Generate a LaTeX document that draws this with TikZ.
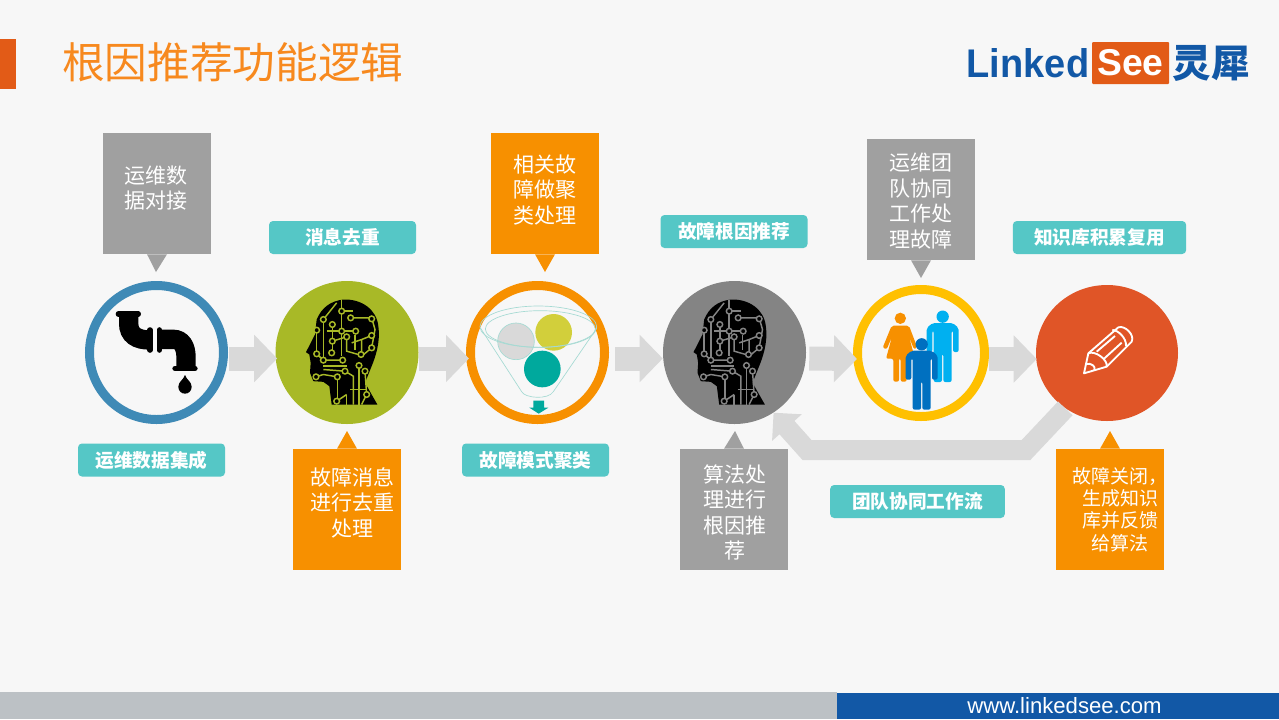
\documentclass[tikz,border=0pt]{standalone}
\usepackage{fontspec}
\setmainfont{Noto Sans CJK SC}
\newfontfamily\logofont{Liberation Sans}
\usetikzlibrary{shapes.geometric, positioning, arrows.meta}

\definecolor{bgcol}{HTML}{F7F7F7}
\definecolor{orangecol}{HTML}{F79000}
\definecolor{titlecol}{HTML}{F7891E}
\definecolor{greycol}{HTML}{A0A0A0}
\definecolor{tealcol}{HTML}{55C7C6}
\definecolor{flowcol}{HTML}{D9D9D9}
\definecolor{bluecol}{HTML}{1258A6}
\definecolor{logocol}{HTML}{E25B17}
\definecolor{olivecol}{HTML}{A8B927}
\definecolor{headgrey}{HTML}{848484}
\definecolor{funnelcol}{HTML}{A5DAD3}
\definecolor{greencol}{HTML}{00A99D}
\definecolor{footgrey}{HTML}{BCC1C5}
\definecolor{tapcol}{HTML}{3F8AB6}
\definecolor{goldcol}{HTML}{FFC000}
\definecolor{closecol}{HTML}{E05527}
\definecolor{limecol}{HTML}{D2CF3B}
\definecolor{skycol}{HTML}{00B0F0}
\definecolor{mancol}{HTML}{0070C0}

\tikzset{
    ring/.style={circle, draw=#1, line width=6.75pt, fill=bgcol, inner sep=0pt, minimum size=100.5pt},
    disc/.style={circle, fill=#1, inner sep=0pt, minimum size=107.25pt},
    obox/.style={rectangle, fill=orangecol, minimum width=81pt, minimum height=90.75pt},
    gbox/.style={rectangle, fill=greycol, minimum width=81pt, minimum height=90.75pt},
    boxtext/.style={text=white, align=center, font=\fontsize{15.75pt}{19.1pt}\selectfont},
    tag/.style={rectangle, rounded corners=3pt, fill=tealcol, text=white, minimum width=110.25pt, minimum height=24.75pt, inner sep=0pt, font=\fontsize{14pt}{16pt}\selectfont\bfseries},
    flow/.style={draw=flowcol, line width=18pt, -{Triangle[length=17.25pt,width=34.5pt]}},
    flowback/.style={draw=flowcol, line width=15pt, line join=miter, -{Triangle[length=15pt,width=29pt]}},
    person/.pic={
        \fill[#1] (0,0) circle (18.5);
        \fill[#1, rounded corners=1.5pt] (-30,19) -- (30,19) -- (48,34) -- (48,106) -- (31,106) -- (31,42) -- (27,42) -- (27,196) -- (2,196) -- (2,112) -- (-2,112) -- (-2,196) -- (-27,196) -- (-27,42) -- (-31,42) -- (-31,106) -- (-48,106) -- (-48,34) -- cycle;
    },
    circuithead/.pic={
        \begin{scope}[scale=1/3, shift={(-861,-279)}]
            \fill[black] (850,120) .. controls (905,118) and (950,150) .. (955,200) .. controls (962,250) and (945,295) .. (935,320) -- (915,370) -- (952,435) -- (815,435) -- (808,380) -- (790,367) -- (760,365) -- (750,340) -- (752,310) -- (748,285) -- (738,278) -- (765,225) -- (770,180) .. controls (785,145) and (810,125) .. (850,120) -- cycle;
            \begin{scope}[draw=#1, line width=1.1pt]
                % traces
                \foreach \trace in {
                    {(845,122)--(845,290)}, {(790,180)--(790,305)}, {(790,180)--(830,130)}, {(817,195)--(817,280)},
                    {(845,155)--(880,155)}, {(872,175)--(935,175)--(945,210)--(935,265)}, {(800,215)--(887,215)},
                    {(860,232)--(860,275)--(895,285)}, {(875,250)--(905,240)--(935,228)}, {(905,240)--(905,290)--(935,265)},
                    {(770,283)--(790,302)--(848,302)}, {(790,330)--(855,335)}, {(768,352)--(790,345)--(832,352)},
                    {(832,352)--(832,425)}, {(855,335)--(880,350)--(880,435)}, {(897,318)--(897,435)}, {(915,335)--(920,405)},
                    {(870,390)--(920,390)}, {(860,405)--(860,435)}, {(770,212)--(770,283)}, {(817,245)--(860,232)},
                    {(790,320)--(860,320)}, {(885,225)--(885,270)}, {(905,435)--(920,405)}, {(830,425)--(860,405)}
                }{
                    \draw \trace;
                }
                % solder points
                \foreach \px/\py in {817/195, 790/180, 845/155, 872/175, 935/178, 845/215, 770/212, 887/215, 935/228, 817/245, 860/232, 770/283, 790/302, 848/302, 815/280, 903/285, 935/265, 832/352, 768/352, 855/335, 897/318, 920/405, 830/425, 915/335}{
                    \filldraw[fill=black] (\px,\py) circle (8.5);
                }
            \end{scope}
        \end{scope}
    }
}

\begin{document}
\begin{tikzpicture}[x=0.75pt, y=-0.75pt]

    % Background
    \fill[bgcol] (0,0) rectangle (1279,719);
    \useasboundingbox (0,0) rectangle (1279,719);
    \fill[logocol] (0,39) rectangle (16,89);
    \node[anchor=west, inner sep=0pt, text=titlecol, font=\fontsize{32pt}{36pt}\selectfont] (title) at (62,62) {根因推荐功能逻辑};

    % Logo
    \node[anchor=west, inner sep=0pt, text=bluecol, transform shape, xscale=0.95, font=\logofont\fontsize{30pt}{32pt}\selectfont\bfseries] (linked) at (966.5,63) {Linked};
    \node[rectangle, rounded corners=0.75pt, fill=logocol, text=white, minimum width=57.75pt, minimum height=31.5pt, inner sep=0pt, font=\logofont\fontsize{28pt}{30pt}\selectfont\bfseries] (see) at (1130.5,63) {See};
    \node[anchor=west, inner sep=0pt, text=bluecol, font=\fontsize{29pt}{30pt}\selectfont\bfseries] (lingxi) at (1172.5,63) {灵犀};

    % Footer
    \fill[footgrey] (0,692) rectangle (837,719);
    \node[anchor=north west, rectangle, fill=bluecol, minimum width=331.5pt, minimum height=19.5pt, inner sep=0pt] (footer) at (837,693) {};
    \node[text=white, inner sep=0pt, font=\logofont\fontsize{16.6pt}{18pt}\selectfont] (site) at (1064.5,706) {www.linkedsee.com};

    % Process circles
    \node[ring=tapcol] (tap) at (156.5,352.5) {};
    \node[disc=olivecol] (dedup) at (347,352.5) {};
    \node[ring=orangecol] (cluster) at (537.5,352.5) {};
    \node[disc=headgrey] (cause) at (734.5,352.5) {};
    \node[ring=goldcol, minimum size=95.25pt] (team) at (921,353) {};
    \node[ellipse, fill=closecol, inner sep=0pt, minimum width=106.5pt, minimum height=102pt] (close) at (1107,353) {};

    % Boxes
    \node[gbox] (box1) at (157,193.5) {};
    \node[obox] (box2) at (347,509.5) {};
    \node[obox] (box3) at (545,193.5) {};
    \node[gbox] (box4) at (734,509.5) {};
    \node[gbox] (box5) at (921,199.5) {};
    \node[obox] (box6) at (1110,509.5) {};
    \fill[greycol] ([xshift=-7.5pt]box1.south) -- (156,272) -- ([xshift=7.5pt]box1.south) -- cycle;
    \fill[orangecol] ([xshift=-7.5pt]box2.north) -- (347,431) -- ([xshift=7.5pt]box2.north) -- cycle;
    \fill[orangecol] ([xshift=-7.5pt]box3.south) -- (545,272) -- ([xshift=7.5pt]box3.south) -- cycle;
    \fill[greycol] ([xshift=-7.5pt]box4.north) -- (735,431) -- ([xshift=7.5pt]box4.north) -- cycle;
    \fill[greycol] ([xshift=-7.5pt]box5.south) -- (921,278) -- ([xshift=7.5pt]box5.south) -- cycle;
    \fill[orangecol] ([xshift=-7.5pt]box6.north) -- (1110,431) -- ([xshift=7.5pt]box6.north) -- cycle;

    % Box texts
    \node[boxtext] (text1) at (156,188) {运维数\\据对接};
    \node[boxtext] (text2) at (352,502.5) {故障消息\\进行去重\\处理};
    \node[boxtext] (text3) at (545,190) {相关故\\障做聚\\类处理};
    \node[boxtext] (text4) at (735,512.5) {算法处\\理进行\\根因推\\荐};
    \node[boxtext] (text5) at (921,201) {运维团\\队协同\\工作处\\理故障};
    \node[boxtext, font=\fontsize{14.25pt}{16.8pt}\selectfont] (text6) at (1120,509.5) {故障关闭，\\生成知识\\库并反馈\\给算法};

    % Labels
    \node[tag] (tag1) at (151.5,460) {运维数据集成};
    \node[tag] (tag2) at (342.5,237.5) {消息去重};
    \node[tag] (tag3) at (535.5,460) {故障模式聚类};
    \node[tag] (tag4) at (734,231.5) {故障根因推荐};
    \node[tag, minimum width=130pt] (tag5) at (1099.5,237.5) {知识库积累复用};
    \node[tag, minimum width=131pt] (tag6) at (917.5,501.5) {团队协同工作流};

    % Flows
    \draw[flow] ([xshift=0.75pt, yshift=-4.5pt]tap.east) -- ([xshift=1.5pt, yshift=-4.5pt]dedup.west);
    \draw[flow] ([yshift=-4.5pt]dedup.east) -- ([xshift=2.25pt, yshift=-4.5pt]cluster.west);
    \draw[flow] ([xshift=4.5pt, yshift=-4.5pt]cluster.east) -- ([yshift=-4.5pt]cause.west);
    \draw[flow] ([xshift=2.25pt, yshift=-4.5pt]cause.east) -- ([xshift=3pt, yshift=-4.5pt]team.west);
    \draw[flow] ([yshift=-4.5pt]team.east) -- ([xshift=0.75pt, yshift=-4.5pt]close.west);
    \draw[flowback] (close.233) -- (1026,450) -- (807,450) -- (cause.-57);

    % Tap icon
    \begin{scope}[shift={(60,260)}, scale=1/3, line cap=round]
        \draw[line width=14.5pt, line cap=butt] (206,165) -- (206,190) .. controls (206,225) and (230,240) .. (270,240);
        \draw[line width=4pt] (175,162) -- (235,162);
        \draw[line width=4.2pt] (270,210) -- (270,270);
        \draw[line width=4.2pt] (298,210) -- (298,270);
        \draw[line width=14.5pt, line cap=butt] (298,238) -- (340,238) .. controls (365,238) and (378,260) .. (378,290) -- (378,325);
        \draw[line width=4pt] (345,325) -- (405,325);
        \fill[black] (375,345) .. controls (380,360) and (395,365) .. (395,380) .. controls (395,408) and (355,408) .. (355,380) .. controls (355,365) and (370,360) .. (375,345) -- cycle;
    \end{scope}

    % Head icons
    \pic at (dedup) {circuithead=olivecol};
    \pic at (cause) {circuithead=headgrey};

    % Funnel icon
    \begin{scope}[shift={(450,260)}, scale=1/3]
        \fill[flowcol] (198,244) circle (55);
        \draw[funnelcol, line width=0.5pt] (198,244) circle (55);
        \fill[limecol] (311,217) circle (55);
        \fill[greencol] (277,327) circle (55);
        \draw[funnelcol, line width=0.5pt] (265,200) ellipse [x radius=175, y radius=62];
        \draw[funnelcol, line width=0.5pt] (271,207) ellipse [x radius=165, y radius=55];
        \draw[funnelcol, line width=0.5pt] (92,205) -- (215,395) .. controls (225,415) and (295,420) .. (310,395) -- (440,205);
        \fill[greencol] (250,422) -- (282,422) -- (282,443) -- (295,443) -- (266,461) -- (238,443) -- (250,443) -- cycle;
    \end{scope}

    % People icon
    \begin{scope}[shift={(760,270)}, scale=1/3]
        \fill[orangecol] (421,145) circle (17);
        \fill[orangecol, rounded corners=1.5pt] (395,167) -- (447,167) -- (472,233) -- (462,238) -- (447,200) -- (465,266) -- (440,266) -- (440,335) -- (422,335) -- (422,266) -- (417,266) -- (417,335) -- (400,335) -- (400,266) -- (378,266) -- (396,200) -- (380,238) -- (368,233) -- cycle;
        \pic[scale=1/3] at (548,140) {person=skycol};
        \pic[scale=1/3] at (485,223) {person=mancol};
    \end{scope}

    % Pencil icon
    \begin{scope}[shift={(760,270)}, scale=1/3, white, line width=1.4pt, line join=round]
        \draw (985,250) -- (1075,172) .. controls (1095,165) and (1125,195) .. (1115,215) -- (1040,290) -- (972,310) -- cycle;
        \draw (985,250) .. controls (1005,240) and (1045,270) .. (1040,290);
        \draw (1010,245) -- (1065,198);
        \draw (1030,268) -- (1085,218);
        \draw (1057,180) .. controls (1075,180) and (1100,205) .. (1098,228);
        \draw (978,282) .. controls (995,278) and (1008,290) .. (1003,300);
    \end{scope}

\end{tikzpicture}
\end{document}
